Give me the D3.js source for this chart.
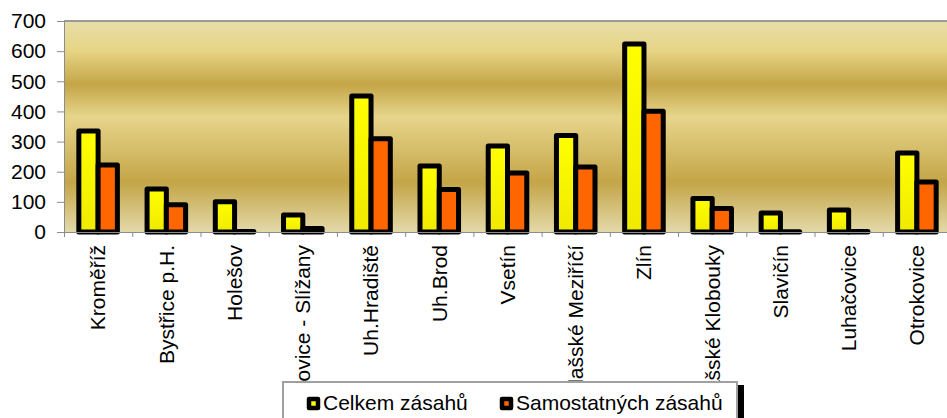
<!DOCTYPE html>
<html>
<head>
<meta charset="utf-8">
<script src="https://cdn.jsdelivr.net/npm/d3@7"></script>
<style>
  body { margin: 0; background: #fff; }
  svg { display: block; font-family: 'Liberation Sans', Arial, sans-serif; }
  .axis path, .axis line { stroke: #8c8c8c; }
  .axis text { fill: #000; font-size: 21px; }
</style>
</head>
<body>
<svg width="947" height="418"></svg>
<script>
var categories = ['Kroměříž', 'Bystřice p.H.', 'Holešov', 'Morkovice - Slížany', 'Uh.Hradiště',
  'Uh.Brod', 'Vsetín', 'Valašské Meziříčí', 'Zlín', 'Valašské Klobouky', 'Slavičín',
  'Luhačovice', 'Otrokovice'];
var seriesNames = ['Celkem zásahů', 'Samostatných zásahů'];
var celkem = [335, 143, 100, 56, 451, 219, 285, 320, 624, 111, 63, 73, 262];
var samostatnych = [222, 90, 2, 12, 309, 141, 196, 216, 401, 78, 1, 2, 166];
var yTicks = [0, 100, 200, 300, 400, 500, 600, 700];

var margin = { top: 21, left: 64 };
var width = 887;   // runs a bit past the window, like the original
var height = 211;

var svg = d3.select('svg');
var defs = svg.append('defs');

// plot area background, horizontal bands of gold
var bg = defs.append('linearGradient')
    .attr('id', 'bg')
    .attr('x1', 0).attr('y1', 0).attr('x2', 0).attr('y2', 1);
[[0, '#e7dda8'], [0.14, '#e7d585'], [0.30, '#c4a548'], [0.455, '#e6d58b'],
 [0.765, '#c4a548'], [1, '#e3d9a8']].forEach(function(s) {
  bg.append('stop').attr('offset', s[0]).attr('stop-color', s[1]);
});

var yel = defs.append('linearGradient')
    .attr('id', 'yel')
    .attr('x1', 0).attr('y1', 0).attr('x2', 0).attr('y2', 1);
yel.append('stop').attr('offset', 0).attr('stop-color', '#ffff00');
yel.append('stop').attr('offset', 1).attr('stop-color', '#f0ea00');

var colors = ['url(#yel)', '#ff6600'];
var legendColors = ['#ffff00', '#ff6600'];

var x0 = d3.scaleBand()
    .domain(categories)
    .range([0, width]);

var x1 = d3.scaleBand()
    .domain(seriesNames)
    .range([0, x0.bandwidth()])
    .paddingOuter(0.77);

var y = d3.scaleLinear()
    .domain([0, 700])
    .range([height, 0]);

var g = svg.append('g')
    .attr('transform', 'translate(' + margin.left + ',' + margin.top + ')');

g.append('rect')
    .attr('width', width)
    .attr('height', height)
    .attr('fill', 'url(#bg)');

g.append('line')
    .attr('x1', 0).attr('x2', width)
    .attr('y1', 0).attr('y2', 0)
    .attr('stroke', '#9a9a9a')
    .attr('stroke-width', 2);

var rows = categories.map(function(c, i) {
  return { name: c, values: [celkem[i], samostatnych[i]] };
});

var groups = g.selectAll('.grp')
    .data(rows)
    .enter().append('g')
    .attr('class', 'grp')
    .attr('transform', function(d) { return 'translate(' + x0(d.name) + ',0)'; });

groups.selectAll('rect')
    .data(function(d) {
      return d.values.map(function(v, k) { return { s: seriesNames[k], v: v, k: k }; });
    })
    .enter().append('rect')
    .attr('x', function(d) { return x1(d.s); })
    .attr('width', x1.bandwidth())
    .attr('y', function(d) { return y(d.v); })
    .attr('height', function(d) { return height - y(d.v); })
    .attr('fill', function(d) { return colors[d.k]; })
    .attr('stroke', '#000')
    .attr('stroke-width', 5)
    .attr('stroke-linejoin', 'round');

var yAxis = d3.axisLeft(y)
    .tickValues(yTicks)
    .tickSize(7)
    .tickPadding(11)
    .tickSizeOuter(0);

g.append('g')
    .attr('class', 'y axis')
    .call(yAxis);

var xAxis = d3.axisBottom(d3.scaleLinear().domain([0, categories.length]).range([0, width]))
    .tickValues(d3.range(categories.length + 1))
    .tickSize(5)
    .tickSizeOuter(0)
    .tickFormat('');

g.append('g')
    .attr('class', 'x axis')
    .attr('transform', 'translate(0,' + height + ')')
    .call(xAxis);

g.append('g')
    .attr('class', 'axis')
    .selectAll('text')
    .data(categories)
    .enter().append('text')
    .attr('transform', function(d) {
      return 'translate(' + (x0(d) + x0.bandwidth() / 2) + ',' + (height + 13) + ') rotate(-90)';
    })
    .attr('text-anchor', 'end')
    .attr('dy', '0.35em')
    .text(function(d) { return d; });

// legend
var legend = svg.append('g')
    .attr('transform', 'translate(283,382)');

legend.append('rect')
    .attr('x', 7).attr('y', 3)
    .attr('width', 454).attr('height', 60)
    .attr('fill', '#000');

legend.append('rect')
    .attr('width', 454).attr('height', 60)
    .attr('fill', '#fff')
    .attr('stroke', '#a0a0a0')
    .attr('stroke-width', 2);

var items = legend.selectAll('.item')
    .data(seriesNames)
    .enter().append('g')
    .attr('class', 'item')
    .attr('transform', function(d, i) { return 'translate(' + [26, 219][i] + ',0)'; });

items.append('rect')
    .attr('x', 0).attr('y', 17)
    .attr('width', 9).attr('height', 9)
    .attr('fill', function(d, i) { return legendColors[i]; })
    .attr('stroke', '#000')
    .attr('stroke-width', 4.5)
    .attr('stroke-linejoin', 'round');

items.append('text')
    .attr('x', 14)
    .attr('y', 27.5)
    .style('font-size', '21px')
    .text(function(d) { return d; });
</script>
</body>
</html>
